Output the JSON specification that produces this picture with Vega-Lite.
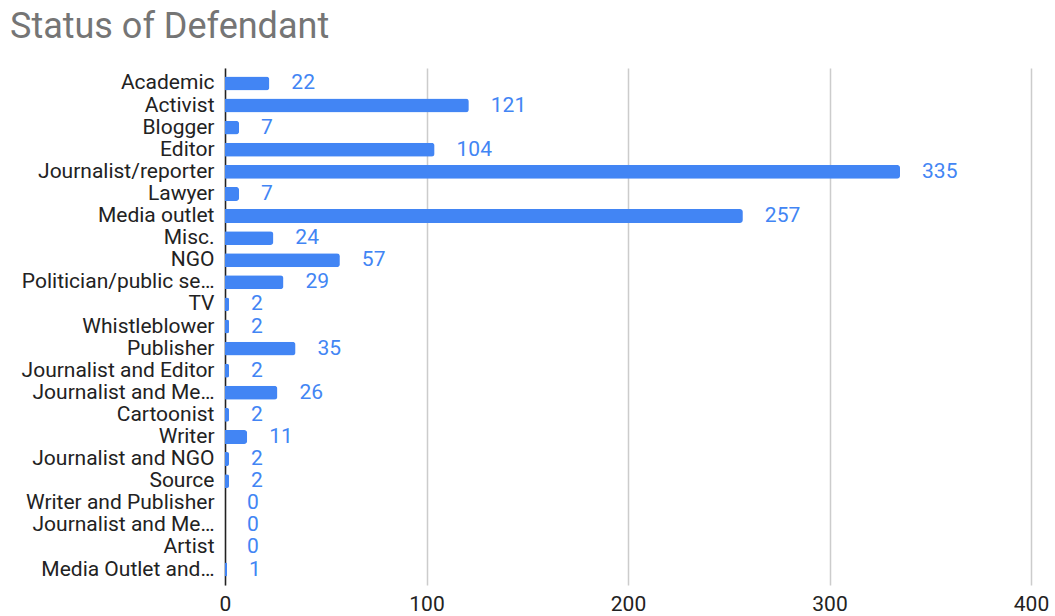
{
  "$schema": "https://vega.github.io/schema/vega-lite/v6.json",
  "width": 806,
  "height": 517,
  "autosize": {"type": "none"},
  "padding": {"left": 225, "top": 68, "right": 24, "bottom": 31},
  "background": "white",
  "title": {
    "text": "Status of Defendant",
    "anchor": "start",
    "frame": "group",
    "orient": "top",
    "baseline": "alphabetic",
    "offset": 30,
    "dx": -215,
    "dy": 36,
    "font": "Roboto",
    "fontSize": 36,
    "fontWeight": "normal",
    "color": "#757575"
  },
  "data": {
    "values": [
      {"status": "Academic", "count": 22},
      {"status": "Activist", "count": 121},
      {"status": "Blogger", "count": 7},
      {"status": "Editor", "count": 104},
      {"status": "Journalist/reporter", "count": 335},
      {"status": "Lawyer", "count": 7},
      {"status": "Media outlet", "count": 257},
      {"status": "Misc.", "count": 24},
      {"status": "NGO", "count": 57},
      {"status": "Politician/public servant", "count": 29},
      {"status": "TV", "count": 2},
      {"status": "Whistleblower", "count": 2},
      {"status": "Publisher", "count": 35},
      {"status": "Journalist and Editor", "count": 2},
      {"status": "Journalist and Media outlet", "count": 26},
      {"status": "Cartoonist", "count": 2},
      {"status": "Writer", "count": 11},
      {"status": "Journalist and NGO", "count": 2},
      {"status": "Source", "count": 2},
      {"status": "Writer and Publisher", "count": 0},
      {"status": "Journalist and Media Outlet and Publisher", "count": 0},
      {"status": "Artist", "count": 0},
      {"status": "Media Outlet and Publisher", "count": 1}
    ]
  },
  "encoding": {
    "y": {
      "field": "status",
      "type": "nominal",
      "sort": null,
      "scale": {"paddingInner": 0.37, "paddingOuter": 0.385},
      "axis": {
        "title": null,
        "ticks": false,
        "domain": true,
        "domainColor": "#222222",
        "domainWidth": 1.5,
        "labelFont": "Roboto",
        "labelFontSize": 21,
        "labelColor": "#222222",
        "labelPadding": 11,
        "labelLimit": 260,
        "labelExpr": "datum.label == 'Politician/public servant' ? 'Politician/public se…' : (datum.label == 'Journalist and Media outlet' || datum.label == 'Journalist and Media Outlet and Publisher') ? 'Journalist and Me…' : datum.label == 'Media Outlet and Publisher' ? 'Media Outlet and…' : datum.label"
      }
    },
    "x": {
      "field": "count",
      "type": "quantitative",
      "scale": {"domain": [0, 400], "nice": false},
      "axis": {
        "title": null,
        "values": [0, 100, 200, 300, 400],
        "ticks": false,
        "domain": false,
        "grid": true,
        "gridColor": "#cccccc",
        "gridWidth": 1.5,
        "labelFlush": false,
        "labelFont": "Roboto",
        "labelFontSize": 21,
        "labelColor": "#222222",
        "labelPadding": 8
      }
    }
  },
  "layer": [
    {
      "mark": {"type": "bar", "color": "#4285f4", "cornerRadiusEnd": 3}
    },
    {
      "mark": {"type": "text", "align": "left", "baseline": "middle", "dx": 22, "font": "Roboto", "fontSize": 21, "color": "#4285f4"},
      "encoding": {"text": {"field": "count", "type": "quantitative"}}
    }
  ],
  "config": {"view": {"stroke": null}}
}
